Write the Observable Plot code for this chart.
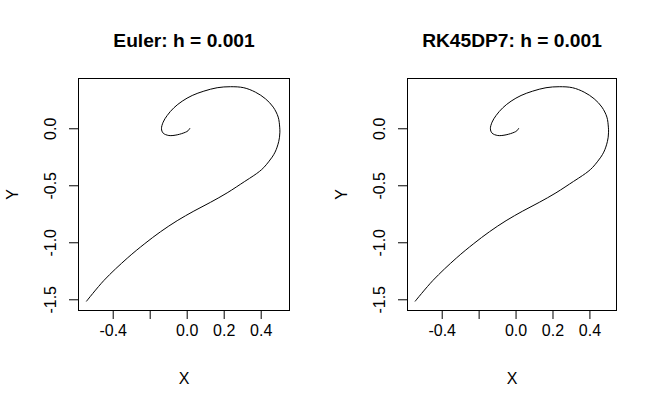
<!DOCTYPE html>
<html>
<head>
<meta charset="utf-8">
<script src="https://cdn.jsdelivr.net/npm/d3@7"></script>
<script src="https://cdn.jsdelivr.net/npm/@observablehq/plot@0.6"></script>
<style>
  body { margin: 0; background: white; }
  #wrap { position: relative; width: 657px; height: 408px; background: white; }
  #wrap svg { position: absolute; top: 0; }
</style>
</head>
<body>
<div id="wrap"></div>
<script>
// Titles
const titles = ["Euler: h = 0.001", "RK45DP7: h = 0.001"];

// Euler trajectory
const eulerX = [0.014, 0.004, -0.009, -0.054, -0.099, -0.13, -0.139, -0.13, -0.108, -0.072, -0.027, 0.027, 0.09, 0.162, 0.234, 0.306, 0.369, 0.423, 0.465, 0.492, 0.50, 0.501, 0.499, 0.495, 0.486, 0.475, 0.459, 0.44, 0.414, 0.39, 0.36, 0.311, 0.216, 0.126, 0.036, -0.054, -0.144, -0.229, -0.324, -0.45, -0.544];
const eulerY = [0.003, -0.018, -0.03, -0.053, -0.059, -0.038, 0.0, 0.058, 0.117, 0.184, 0.242, 0.292, 0.33, 0.36, 0.369, 0.36, 0.321, 0.263, 0.19, 0.102, 0.014, -0.03, -0.074, -0.11, -0.161, -0.205, -0.249, -0.29, -0.34, -0.375, -0.41, -0.462, -0.562, -0.645, -0.722, -0.806, -0.903, -1.007, -1.135, -1.330, -1.512];

// RK45DP7 trajectory
const rkX = [0.014, 0.004, -0.009, -0.054, -0.099, -0.13, -0.139, -0.13, -0.108, -0.072, -0.027, 0.027, 0.09, 0.162, 0.234, 0.306, 0.369, 0.423, 0.465, 0.492, 0.50, 0.501, 0.499, 0.495, 0.486, 0.475, 0.459, 0.44, 0.414, 0.39, 0.36, 0.311, 0.216, 0.126, 0.036, -0.054, -0.144, -0.229, -0.324, -0.45, -0.546];
const rkY = [0.003, -0.018, -0.03, -0.053, -0.059, -0.038, 0.0, 0.058, 0.117, 0.184, 0.242, 0.292, 0.33, 0.36, 0.369, 0.36, 0.321, 0.263, 0.19, 0.102, 0.014, -0.03, -0.074, -0.11, -0.161, -0.205, -0.249, -0.29, -0.34, -0.375, -0.41, -0.462, -0.562, -0.645, -0.722, -0.806, -0.903, -1.007, -1.135, -1.330, -1.512];

// Ticks
const xTicks = [-0.4, -0.2, 0.0, 0.2, 0.4];
const xTickLabels = ["-0.4", "", "0.0", "0.2", "0.4"];
const yTicks = [0.0, -0.5, -1.0, -1.5];
const yTickLabels = ["0.0", "-0.5", "-1.0", "-1.5"];

const FONT = "'Liberation Sans', Arial, Helvetica, sans-serif";

function panel(title, xs, ys, opts) {
  const n = xs.length;
  return Plot.plot({
    width: opts.width,
    height: 408,
    marginLeft: opts.ml,
    marginRight: opts.mr,
    marginTop: 78,
    marginBottom: 98,
    style: {fontFamily: FONT, fontSize: "16px", background: "white", color: "black", overflow: "visible"},
    x: {domain: opts.xdom, label: null},
    y: {domain: [-1.594, 0.441], label: null},
    marks: [
      Plot.frame({stroke: "black", strokeWidth: 1}),
      Plot.line({length: n}, {x: xs, y: ys, stroke: "black", strokeWidth: 1, curve: "catmull-rom"}),
      Plot.axisX({ticks: xTicks, tickSize: 9, tickPadding: 5, stroke: "black", strokeOpacity: 1,
        tickFormat: d => xTickLabels[xTicks.findIndex(t => Math.abs(t - d) < 1e-9)], fill: "black", label: null}),
      Plot.axisY({ticks: yTicks, tickSize: 9, stroke: "black", strokeOpacity: 1, tickFormat: () => "", label: null}),
      Plot.text(yTicks, {y: d => d, text: (d, i) => yTickLabels[i], frameAnchor: "left", dx: -28,
        rotate: -90, textAnchor: "middle", lineAnchor: "middle", fill: "black"}),
      Plot.text(["X"], {frameAnchor: "bottom", dy: 68, lineAnchor: "middle", fill: "black"}),
      Plot.text(["Y"], {frameAnchor: "left", dx: -66, rotate: -90, textAnchor: "middle", lineAnchor: "middle", fill: "black"}),
      Plot.text([title], {frameAnchor: "top", dy: -38, lineAnchor: "middle", fontWeight: "bold", fontSize: 19.2, fill: "black"})
    ]
  });
}

const wrap = document.getElementById("wrap");
const p1 = panel(titles[0], eulerX, eulerY, {width: 329, ml: 78, mr: 40, xdom: [-0.5876, 0.553]});
p1.style.left = "0px";
const p2 = panel(titles[1], rkX, rkY, {width: 329, ml: 79, mr: 41, xdom: [-0.588, 0.544]});
p2.style.left = "328px";
wrap.appendChild(p1);
wrap.appendChild(p2);
</script>
</body>
</html>
